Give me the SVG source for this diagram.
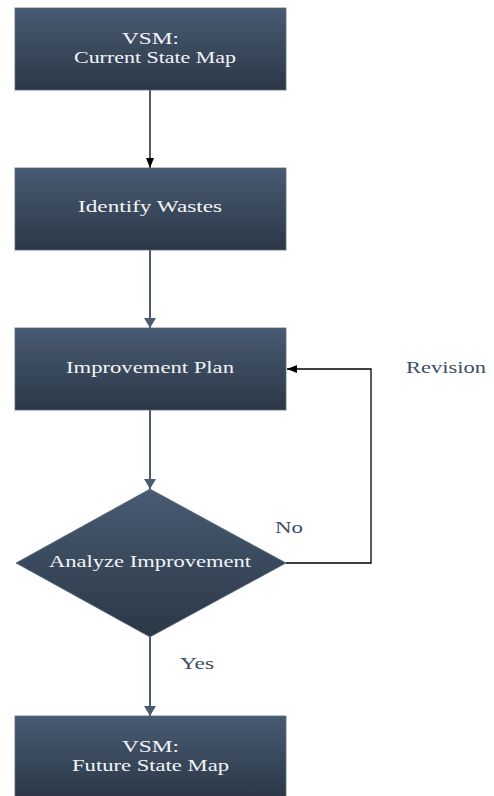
<svg xmlns="http://www.w3.org/2000/svg" width="494" height="796" viewBox="0 0 494 796">
<defs>
<linearGradient id="g" x1="0" y1="0" x2="0" y2="1">
<stop offset="0" stop-color="#485b73"/>
<stop offset="1" stop-color="#2b3746"/>
</linearGradient>
<marker id="ab" markerWidth="10" markerHeight="8" refX="10" refY="4" orient="auto" markerUnits="userSpaceOnUse">
<path d="M0,0 L10,4 L0,8 Z" fill="#000"/>
</marker>
<marker id="as" markerWidth="10" markerHeight="12" refX="10" refY="6" orient="auto" markerUnits="userSpaceOnUse">
<path d="M0,0 L10,6 L0,12 Z" fill="#4a5b72"/>
</marker>
</defs>
<style>
.n{fill:url(#g);stroke:#5a6b80;stroke-width:0.8}
.t{font-family:"Liberation Serif","Times New Roman",serif;font-size:16px;fill:#f2f4f7;text-anchor:middle}
.l{font-family:"Liberation Serif","Times New Roman",serif;font-size:16px;fill:#3d4c61}
.c{fill:none;stroke:#4a5b72;stroke-width:2}
.k{fill:none;stroke:#000;stroke-width:1.3}
</style>
<g id="connectors">
<line class="k" x1="150" y1="90" x2="150" y2="168" marker-end="url(#ab)"/>
<line class="c" x1="150" y1="250" x2="150" y2="328" marker-end="url(#as)"/>
<line class="c" x1="150" y1="410" x2="150" y2="489" marker-end="url(#as)"/>
<line class="c" x1="150" y1="637" x2="150" y2="716" marker-end="url(#as)"/>
<polyline class="k" points="286,563 371,563 371,369 287,369" marker-end="url(#ab)"/>
<text class="l" x="406" y="373" textLength="80" lengthAdjust="spacingAndGlyphs">Revision</text>
<text class="l" x="275" y="533" textLength="28" lengthAdjust="spacingAndGlyphs">No</text>
<text class="l" x="180" y="669" textLength="34" lengthAdjust="spacingAndGlyphs">Yes</text>
</g>
<g id="current">
<rect class="n" x="15" y="8" width="271" height="82"/>
<text class="t" x="150.5" y="44" textLength="57" lengthAdjust="spacingAndGlyphs">VSM:</text>
<text class="t" x="155" y="63" textLength="162" lengthAdjust="spacingAndGlyphs">Current State Map</text>
</g>
<g id="identify">
<rect class="n" x="15" y="168" width="271" height="82"/>
<text class="t" x="150" y="212" textLength="144" lengthAdjust="spacingAndGlyphs">Identify Wastes</text>
</g>
<g id="plan">
<rect class="n" x="15" y="328" width="271" height="82"/>
<text class="t" x="150" y="373" textLength="168" lengthAdjust="spacingAndGlyphs">Improvement Plan</text>
</g>
<g id="analyze">
<polygon class="n" points="150,489 286,563 150,637 16,563"/>
<text class="t" x="150" y="567" textLength="202" lengthAdjust="spacingAndGlyphs">Analyze Improvement</text>
</g>
<g id="future">
<rect class="n" x="15" y="716" width="271" height="82"/>
<text class="t" x="150.5" y="752" textLength="57" lengthAdjust="spacingAndGlyphs">VSM:</text>
<text class="t" x="150.5" y="771" textLength="157" lengthAdjust="spacingAndGlyphs">Future State Map</text>
</g>
</svg>
